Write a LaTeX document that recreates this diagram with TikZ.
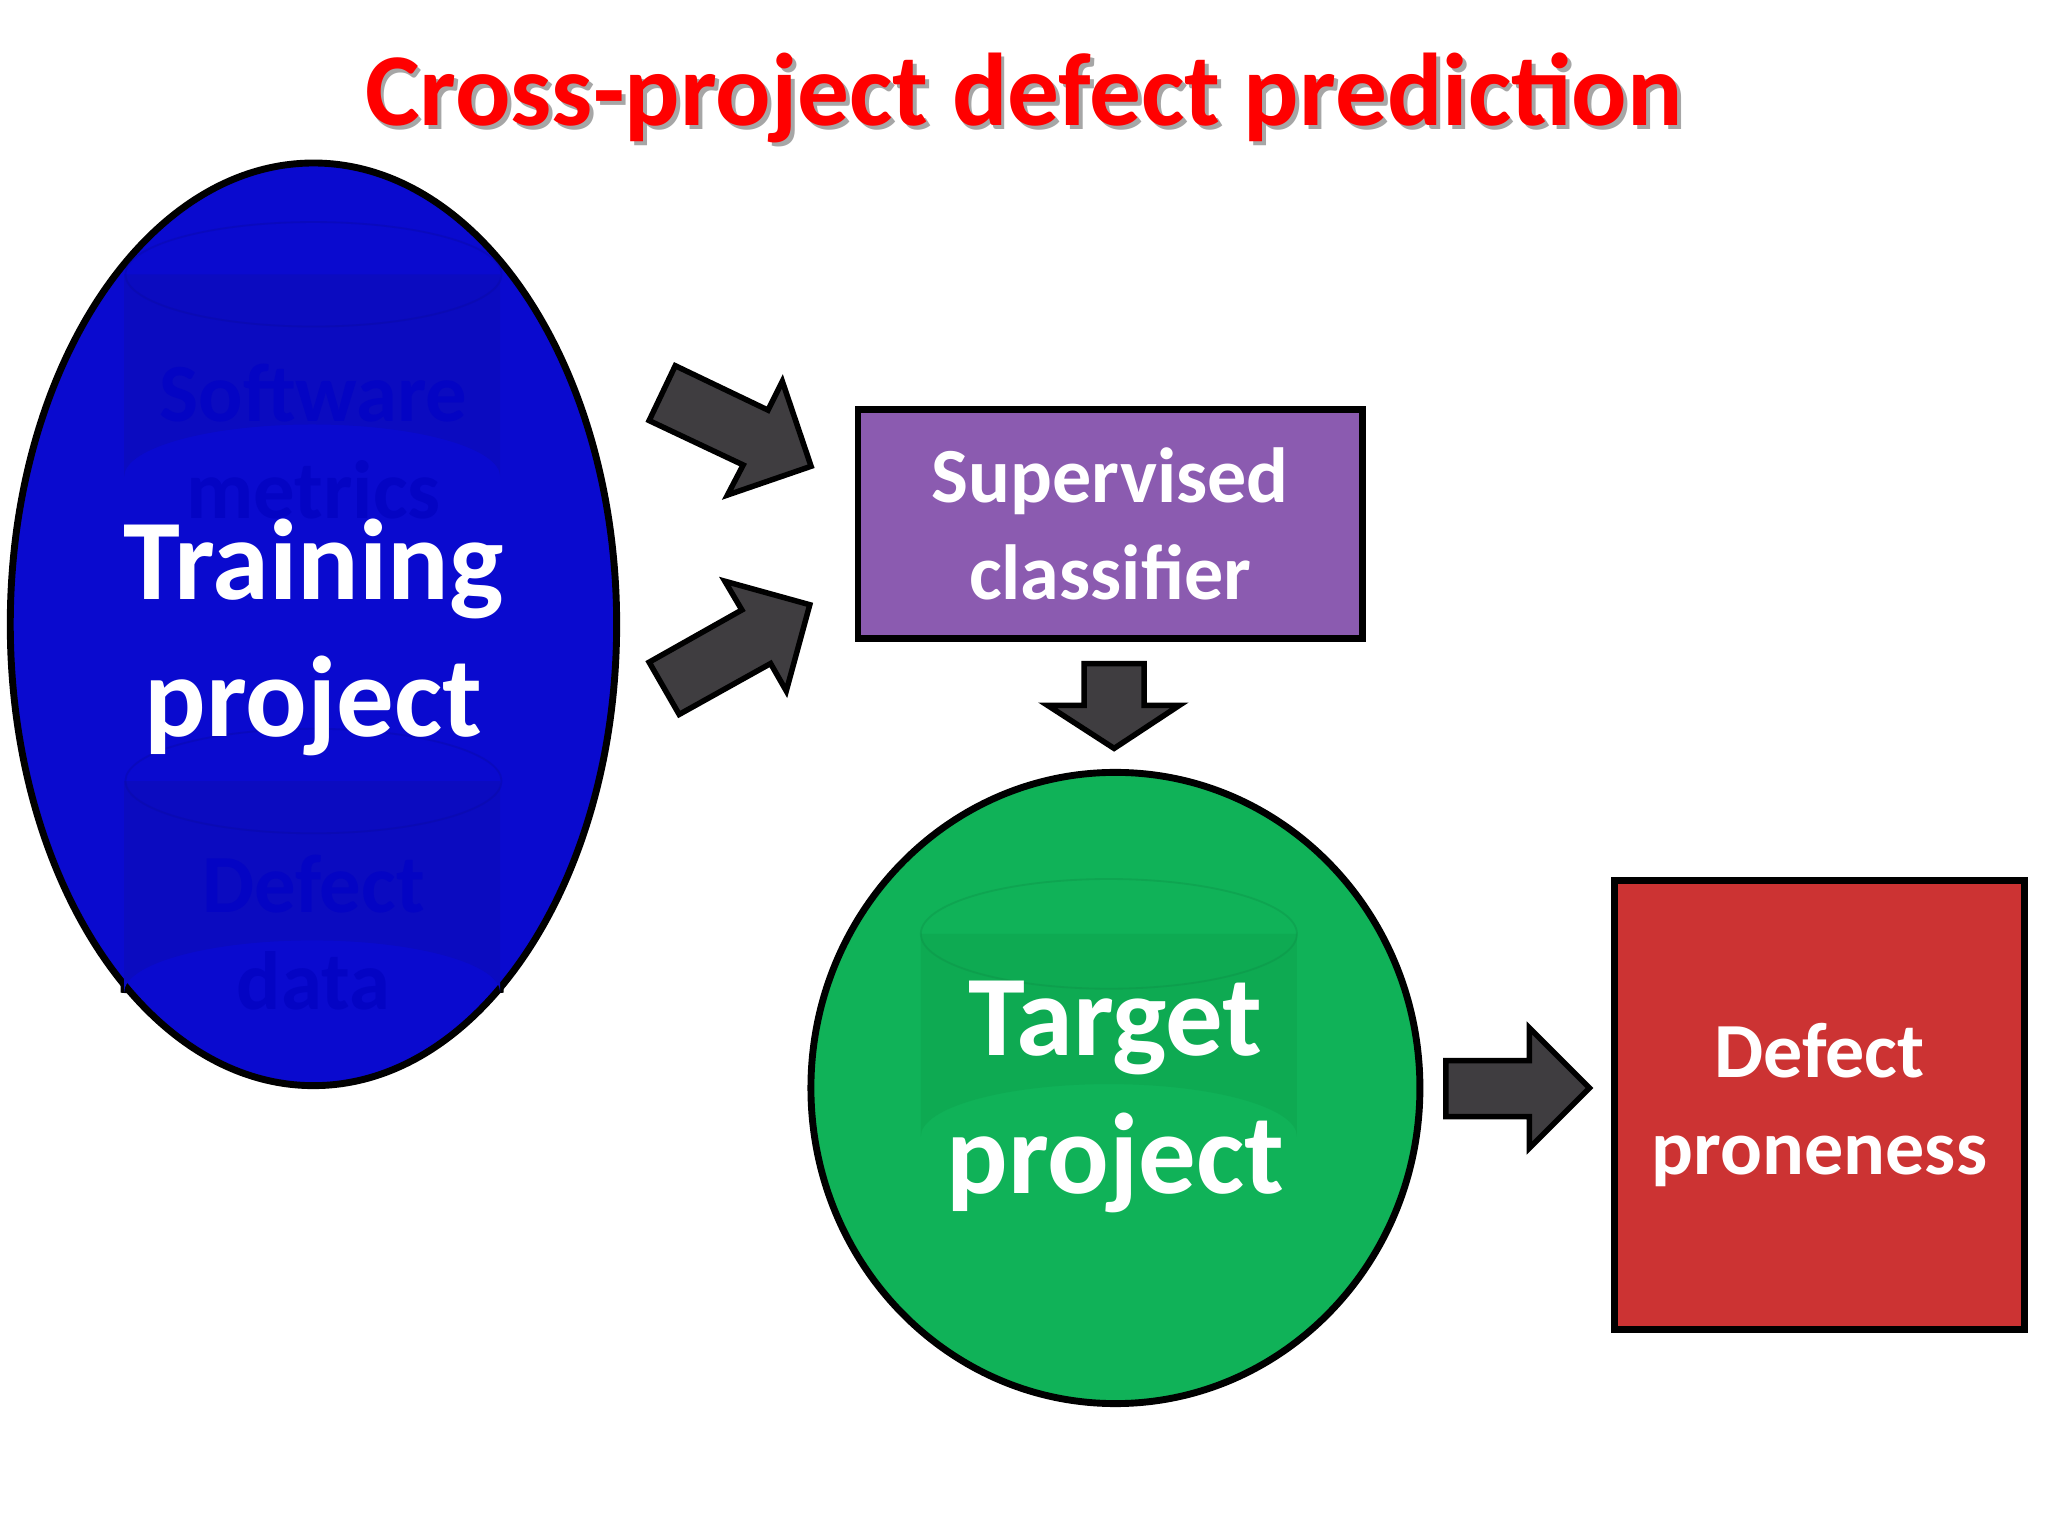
\documentclass[tikz,border=0pt]{standalone}
\usepackage{fontspec}
\setmainfont{Carlito}
\usetikzlibrary{shapes.geometric}
\definecolor{tblue}{HTML}{0A0ACF}
\definecolor{dblue}{HTML}{0B0BC0}
\definecolor{tpurple}{HTML}{8B5BB0}
\definecolor{tgreen}{HTML}{10B258}
\definecolor{dgreen}{HTML}{0EAA52}
\definecolor{tred}{HTML}{CC3333}
\definecolor{agray}{HTML}{3F3D40}
\begin{document}
\begin{tikzpicture}[x=0.01cm,y=-0.01cm,
  barrow/.style={draw=black, line width=1.2pt, fill=agray, line join=miter},
  lbl/.style={text=white, align=center}]
\useasboundingbox (0,0) rectangle (1568,1176);
\fill[white] (0,0) rectangle (1568,1176);
% title
\node[text=black!35, font=\bfseries\fontsize{22.5}{27}\selectfont] at (787,78) {Cross-project defect prediction};
\node (title)[text=red, font=\bfseries\fontsize{22.5}{27}\selectfont] at (784,75) {Cross-project defect prediction};
% training ellipse with hidden cylinders
\draw[line width=1.5pt, fill=black] (95,210) -- (95,760) arc[start angle=180,end angle=360,x radius=144,y radius=38] -- (383,210) -- cycle;
\node (train)[ellipse, draw=black, line width=1.5pt, fill=tblue, minimum width=4.64cm, minimum height=7.06cm] at (240,478) {};
\fill[dblue] (95,210) -- (95,365) arc[start angle=180,end angle=360,x radius=144,y radius=40] -- (383,210) -- cycle;
\draw[dblue!80!black, opacity=0.3] (240,210) ellipse[x radius=144,y radius=40];
\fill[dblue] (95,598) -- (95,760) arc[start angle=180,end angle=360,x radius=144,y radius=40] -- (383,598) -- cycle;
\draw[dblue!80!black, opacity=0.3] (240,598) ellipse[x radius=144,y radius=40];
\node (sm)[text=blue!50!tblue!85!black, font=\bfseries\fontsize{18}{21}\selectfont, align=center] at (240,338) {Software\\metrics};
\node (dd)[text=blue!50!tblue!85!black, font=\bfseries\fontsize{18}{21}\selectfont, align=center] at (240,714) {Defect\\data};
\node (tp)[lbl, font=\bfseries\fontsize{25}{30}\selectfont] at (240,488) {Training\\project};
% supervised classifier
\node (sc)[draw=black, line width=1.5pt, fill=tpurple, minimum width=3.86cm, minimum height=1.75cm, lbl, font=\bfseries\fontsize{17}{21}\selectfont] at (850,401) {Supervised\\classifier};
% target
\node (tg)[ellipse, draw=black, line width=1.5pt, fill=tgreen, minimum width=4.66cm, minimum height=4.83cm] at (854,833) {};
\fill[dgreen] (705,715) -- (705,870) arc[start angle=180,end angle=360,x radius=144,y radius=40] -- (993,715) -- cycle;
\draw[dgreen!80!black, opacity=0.3] (849,715) ellipse[x radius=144,y radius=42];
\node (tgt)[lbl, font=\bfseries\fontsize{25}{30}\selectfont] at (854,840) {Target\\project};
% defect proneness
\node (dp)[draw=black, line width=1.5pt, fill=tred, minimum width=3.14cm, minimum height=3.43cm, lbl, font=\bfseries\fontsize{17}{21}\selectfont] at (1393,846) {Defect\\proneness};
% arrows
\draw[barrow] (517,280)--(588,314)--(599,292)--(621,357)--(557,379)--(569,356)--(497,322)--cycle;
\draw[barrow] (497,507)--(568,467)--(555,445)--(620,463)--(602,529)--(590,508)--(520,547)--cycle;
\draw[barrow] (830,508)--(876,508)--(876,540)--(903,540)--(853,573)--(802,540)--(830,540)--cycle;
\draw[barrow] (1107,812)--(1171,812)--(1171,787)--(1217,833)--(1171,879)--(1171,855)--(1107,855)--cycle;
\end{tikzpicture}
\end{document}
